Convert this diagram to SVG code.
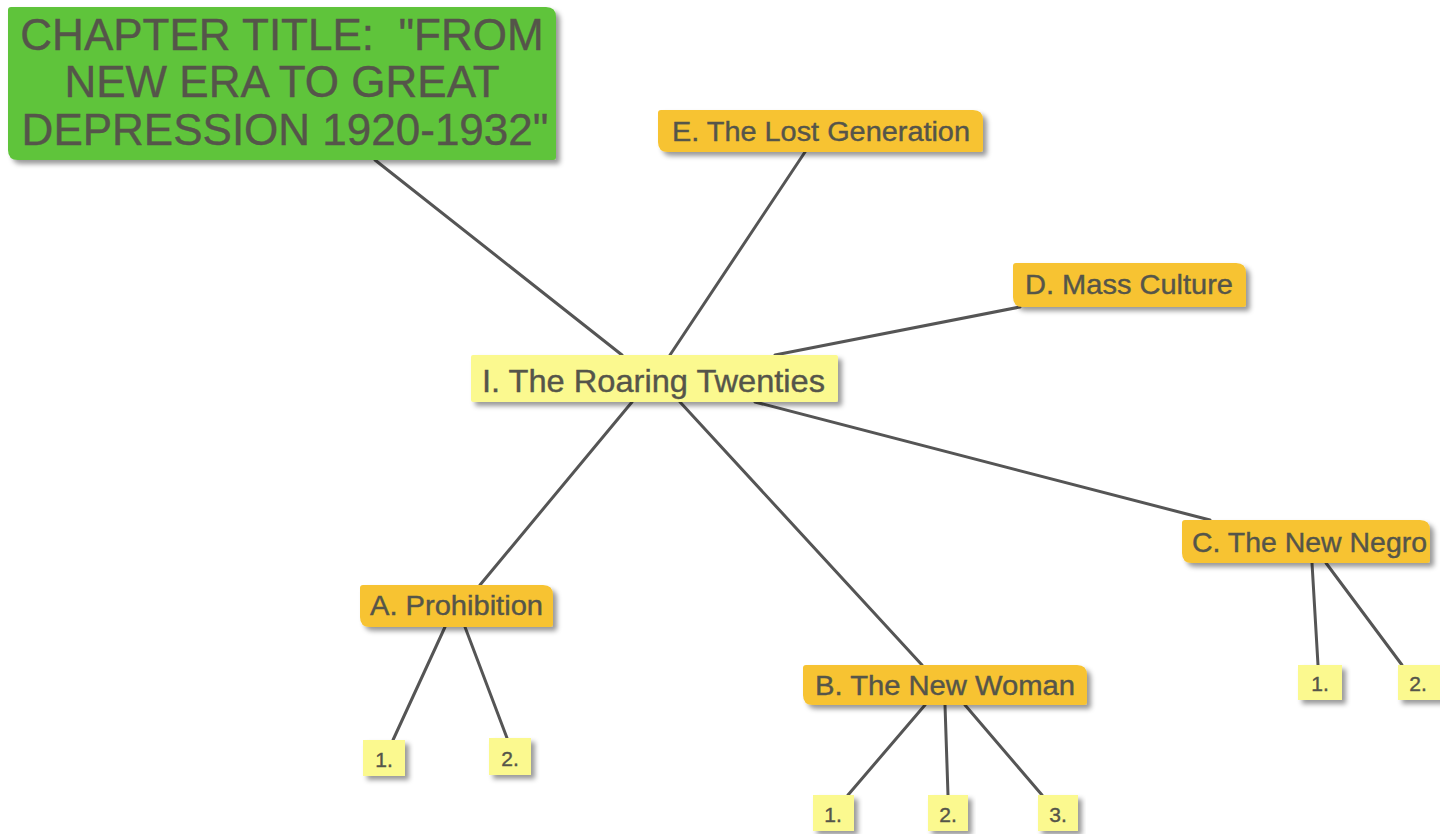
<svg xmlns="http://www.w3.org/2000/svg" width="1440" height="834" viewBox="0 0 1440 834">
<defs>
<filter id="sh" x="-10%" y="-20%" width="130%" height="160%">
<feDropShadow dx="4" dy="4" stdDeviation="2.5" flood-color="#000" flood-opacity="0.4"/>
</filter>
<style>
.t{font-family:"Liberation Sans",Arial,sans-serif;fill:#55554a;stroke:#55554a;stroke-width:0.4;}
.g{fill:#5ec43a;filter:url(#sh);}
.o{fill:#f7c330;filter:url(#sh);}
.y{fill:#fbf98f;filter:url(#sh);}
.c line{stroke:#555;stroke-width:3;stroke-linecap:round;}
</style>
</defs>
<rect width="1440" height="834" fill="#fff"/>
<g class="c" id="connectors">
<line x1="375" y1="160" x2="622" y2="355"/>
<line x1="805" y1="152" x2="670" y2="355"/>
<line x1="1020" y1="307" x2="775" y2="355"/>
<line x1="1210" y1="520" x2="755" y2="402"/>
<line x1="480" y1="585" x2="632" y2="402"/>
<line x1="922" y1="665" x2="680" y2="402"/>
<line x1="445" y1="627" x2="393" y2="740"/>
<line x1="465" y1="627" x2="507" y2="738"/>
<line x1="925" y1="705" x2="848" y2="795"/>
<line x1="945" y1="705" x2="948" y2="795"/>
<line x1="965" y1="705" x2="1042" y2="795"/>
<line x1="1312" y1="563" x2="1318" y2="665"/>
<line x1="1326" y1="563" x2="1402" y2="665"/>
</g>
<g id="title">
<path class="g" d="M11,7 H546 Q556,7 556,17 V157 Q556,160 553,160 H18 Q8,160 8,150 V10 Q8,7 11,7 Z"/>
<text class="t" font-size="44" text-anchor="middle" xml:space="preserve"><tspan x="282" y="50">CHAPTER TITLE:  "FROM</tspan><tspan x="282" y="97">NEW ERA TO GREAT</tspan><tspan x="285" y="145">DEPRESSION 1920-1932"</tspan></text>
</g>
<g id="nodeE">
<path class="o" d="M661,110 H973 Q983,110 983,120 V149 Q983,152 980,152 H668 Q658,152 658,142 V113 Q658,110 661,110 Z"/>
<text class="t" font-size="27" x="672" y="141" textLength="298" lengthAdjust="spacingAndGlyphs">E. The Lost Generation</text>
</g>
<g id="nodeD">
<path class="o" d="M1016,263 H1236 Q1246,263 1246,273 V304 Q1246,307 1243,307 H1023 Q1013,307 1013,297 V266 Q1013,263 1016,263 Z"/>
<text class="t" font-size="28" x="1025" y="294" textLength="208" lengthAdjust="spacingAndGlyphs">D. Mass Culture</text>
</g>
<g id="center">
<rect class="y" x="471" y="355" width="367" height="47" rx="2"/>
<text class="t" font-size="32" x="482" y="392" textLength="343" lengthAdjust="spacingAndGlyphs">I. The Roaring Twenties</text>
</g>
<g id="nodeC">
<path class="o" d="M1185,520 H1420 Q1430,520 1430,530 V560 Q1430,563 1427,563 H1192 Q1182,563 1182,553 V523 Q1182,520 1185,520 Z"/>
<text class="t" font-size="28" x="1192" y="552" textLength="235" lengthAdjust="spacingAndGlyphs">C. The New Negro</text>
</g>
<g id="nodeA">
<path class="o" d="M363,585 H543 Q553,585 553,595 V624 Q553,627 550,627 H370 Q360,627 360,617 V588 Q360,585 363,585 Z"/>
<text class="t" font-size="27" x="370" y="615" textLength="173" lengthAdjust="spacingAndGlyphs">A. Prohibition</text>
</g>
<g id="nodeB">
<path class="o" d="M806,665 H1077 Q1087,665 1087,675 V702 Q1087,705 1084,705 H813 Q803,705 803,695 V668 Q803,665 806,665 Z"/>
<text class="t" font-size="27" x="815" y="695" textLength="260" lengthAdjust="spacingAndGlyphs">B. The New Woman</text>
</g>
<g id="A1"><rect class="y" x="363" y="740" width="42" height="36"/><text class="t" font-size="21" x="384" y="767" text-anchor="middle">1.</text></g>
<g id="A2"><rect class="y" x="489" y="738" width="42" height="37"/><text class="t" font-size="21" x="510" y="766" text-anchor="middle">2.</text></g>
<g id="B1"><rect class="y" x="813" y="795" width="41" height="36"/><text class="t" font-size="21" x="833" y="822" text-anchor="middle">1.</text></g>
<g id="B2"><rect class="y" x="928" y="795" width="40" height="36"/><text class="t" font-size="21" x="948" y="822" text-anchor="middle">2.</text></g>
<g id="B3"><rect class="y" x="1038" y="795" width="40" height="36"/><text class="t" font-size="21" x="1058" y="822" text-anchor="middle">3.</text></g>
<g id="C1"><rect class="y" x="1298" y="665" width="44" height="35"/><text class="t" font-size="21" x="1320" y="691" text-anchor="middle">1.</text></g>
<g id="C2"><rect class="y" x="1398" y="665" width="44" height="35"/><text class="t" font-size="21" x="1418" y="691" text-anchor="middle">2.</text></g>
</svg>
